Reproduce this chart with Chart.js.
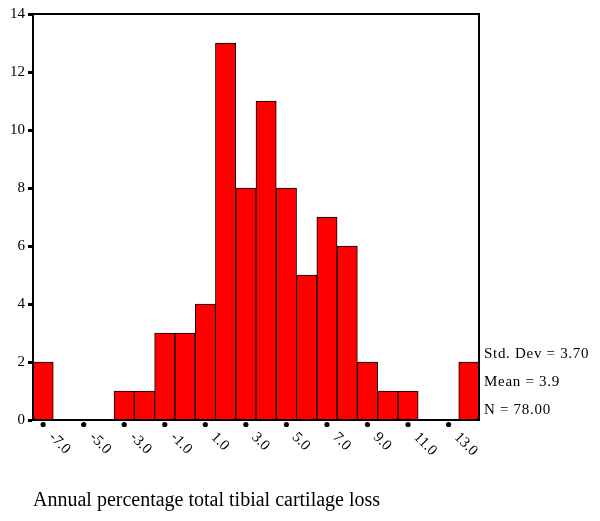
<!DOCTYPE html>
<html>
<head>
<meta charset="utf-8">
<script src="https://cdn.jsdelivr.net/npm/chart.js@4/dist/chart.umd.min.js"></script>
<style>
html,body{margin:0;padding:0;background:#fff;}
#c{display:block;}
</style>
</head>
<body>
<canvas id="c" width="600" height="521"></canvas>
<script>
const bins = [-7,-6,-5,-4,-3,-2,-1,0,1,2,3,4,5,6,7,8,9,10,11,12,13,14];
const counts = [2,0,0,0,1,1,3,3,4,13,8,11,8,5,7,6,2,1,1,0,0,2];
const xTickValues = [-7,-5,-3,-1,1,3,5,7,9,11,13];
const yMin = 0, yMax = 14, yStep = 2;
const statsText = ['Std. Dev = 3.70','Mean = 3.9','N = 78.00'];
const axisTitle = 'Annual percentage total tibial cartilage loss';

const SERIF = '"Liberation Serif", "Times New Roman", serif';

const decor = {
  id: 'decor',
  afterDatasetsDraw(chart) {
    const {ctx, chartArea: a, scales: {x}} = chart;
    ctx.save();
    ctx.strokeStyle = '#000';
    ctx.lineWidth = 2;
    ctx.strokeRect(a.left, a.top, a.right - a.left, a.bottom - a.top);
    ctx.fillStyle = '#000';
    ctx.font = '15px ' + SERIF;
    xTickValues.forEach(v => {
      const px = x.getPixelForValue(bins.indexOf(v));
      ctx.beginPath();
      ctx.arc(px, a.bottom + 4.5, 2.6, 0, Math.PI * 2);
      ctx.fill();
      ctx.save();
      ctx.translate(px + 8, a.bottom + 15);
      ctx.rotate(Math.PI / 4);
      ctx.textAlign = 'left';
      ctx.textBaseline = 'middle';
      ctx.fillText(v.toFixed(1), 0, 0);
      ctx.restore();
    });
    ctx.textAlign = 'left';
    ctx.textBaseline = 'alphabetic';
    if ('letterSpacing' in ctx) ctx.letterSpacing = '0.7px';
    const statY = [358, 386, 414];
    statsText.forEach((t, i) => {
      ctx.fillText(t, a.right + 5, statY[i]);
    });
    ctx.font = '20px ' + SERIF;
    if ('letterSpacing' in ctx) ctx.letterSpacing = '0px';
    ctx.fillText(axisTitle, a.left, 506);
    ctx.restore();
  }
};

new Chart(document.getElementById('c'), {
  type: 'bar',
  data: {
    labels: bins.map(b => b.toFixed(1)),
    datasets: [{
      data: counts,
      backgroundColor: '#ff0000',
      borderColor: '#000',
      borderWidth: 1,
      categoryPercentage: 1,
      barPercentage: 1
    }]
  },
  options: {
    responsive: false,
    animation: false,
    layout: {padding: {top: 14, right: 121, left: 0, bottom: 0}},
    plugins: {legend: {display: false}, tooltip: {enabled: false}},
    scales: {
      x: {
        grid: {display: false, drawOnChartArea: false, drawTicks: false},
        border: {display: true, color: '#000', width: 2},
        ticks: {display: false},
        afterFit(s) { s.height = 101; }
      },
      y: {
        min: yMin, max: yMax,
        grid: {drawOnChartArea: false, drawTicks: true, tickLength: 5, tickWidth: 3, tickColor: '#000'},
        border: {display: true, color: '#000', width: 2},
        ticks: {stepSize: yStep, color: '#000', padding: 3, font: {family: SERIF, size: 15}},
        afterFit(s) { s.width = 33; }
      }
    }
  },
  plugins: [decor]
});
</script>
</body>
</html>
